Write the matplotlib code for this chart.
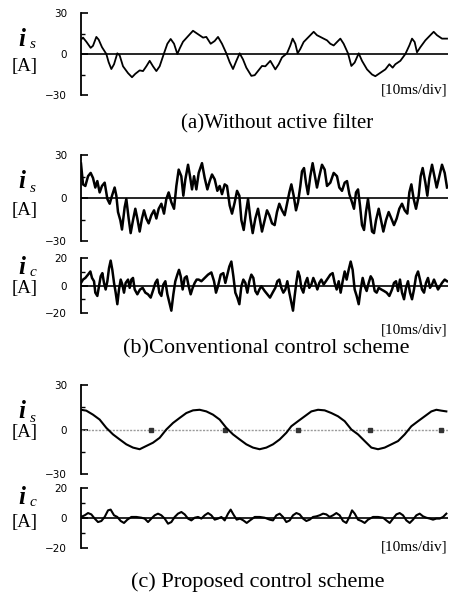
import matplotlib
matplotlib.use("Agg")
import matplotlib.pyplot as plt
import numpy as np

# ---------------- data (time in ms, current in A) ----------------
# (a) Without active filter: source current
a_is_t = [0.0, 0.33, 0.87, 1.58, 1.96, 2.51, 2.89, 3.43, 4.14, 4.52, 4.96, 5.40, 5.94, 6.32, 6.87,
          7.69, 8.34, 8.88, 9.59, 10.14, 10.68, 11.23, 11.77, 12.32, 12.86, 13.57, 14.12, 14.66,
          15.21, 15.75, 16.13, 16.68, 17.39, 18.31, 19.13, 19.95, 20.49, 21.20, 21.85, 22.40,
          23.05, 23.76, 24.31, 24.85, 25.40, 25.94, 26.49, 27.03, 27.85, 28.40,
          29.59, 30.14, 30.95, 31.77, 32.32, 32.86, 33.68, 34.22, 34.60, 35.04, 35.42, 35.86,
          36.40, 37.22, 38.04, 38.58, 39.13, 39.67, 40.22, 40.76, 41.31, 41.85, 42.40, 42.94,
          43.65, 44.20, 44.74, 45.40, 45.94, 46.76, 47.58, 48.12, 48.94, 49.76, 50.41, 50.95,
          51.39, 52.21, 53.03, 53.68, 54.12, 54.55, 54.93, 55.48, 56.30, 57.11, 57.66, 58.20,
          59.02, 59.84]
a_is_v = [10.5, 12, 9, 4.5, 6, 12.5, 10.5, 5, 0, -6, -11, -7.5, 0.5, -1, -9,
          -14, -17, -14.5, -12, -12.5, -9, -5, -9, -12.5, -9, 0.5, 7.5, 11,
          7.5, 0, 4, 9, 12.5, 17, 14.5, 12, 12.5, 7.5, 9.5, 12.5,
          7.5, 0.5, -6, -11, -5, 0.5, -4, -10, -16, -15.5,
          -8.75, -9, -5, -11.25, -7.5, -2.5, 0.5, 6.25, 11.25, 7.5, 0.5, 3.75,
          8.75, 12.5, 16.25, 13.75, 12.5, 11.25, 10, 7.5, 6.25, 8.75, 11.25, 7.5,
          0.5, -8.75, -6.25, 0.5, -5, -11.25, -15, -16.25, -13.75, -11.25, -7.5, -10,
          -7.5, -5, 0, 6.25, 11.25, 8.75, 1.25, 5, 10, 13.75, 16.25, 13.75,
          11.25, 11.25]

# (b) Conventional control scheme: source current
b_is_t = [0.0, 0.33, 0.71, 1.15, 1.58, 1.96, 2.34, 2.67, 3.05, 3.43, 3.87, 4.31, 4.69, 5.07, 5.50,
          5.78, 6.05, 6.43, 6.70, 7.14, 7.41, 7.79, 8.12, 8.50, 8.88, 9.21, 9.59, 9.97, 10.30,
          10.68, 11.06, 11.50, 11.94, 12.32, 12.70, 13.14, 13.57, 13.95, 14.33, 14.77, 15.21,
          15.59, 15.97, 16.40, 16.73, 17.06, 17.50, 17.82, 18.15, 18.48, 18.86, 19.24, 19.78,
          20.22, 20.66, 21.04, 21.42, 21.86, 22.29, 22.67, 23.05, 23.49, 23.87, 24.31, 24.69,
          25.13, 25.51, 25.89, 26.22, 26.60, 26.98, 27.31, 27.69, 28.07, 28.50, 28.94, 29.32,
          29.59, 30.03, 30.41, 30.79, 31.23, 31.66, 32.04, 32.42, 32.86, 33.30, 33.68, 34.06,
          34.39, 34.77, 35.15, 35.48, 35.86, 36.13, 36.46, 36.78, 37.11, 37.49, 37.87, 38.20,
          38.58, 38.96, 39.40, 39.84, 40.22, 40.76, 41.31, 41.85, 42.23, 42.67, 43.11, 43.49,
          43.87, 44.31, 44.63, 44.96, 45.29, 45.61, 45.94, 46.27, 46.59, 46.92, 47.25, 47.58,
          47.90, 48.23, 48.67, 49.05, 49.43, 49.86, 50.30, 50.74, 51.17, 51.61, 52.04, 52.48,
          52.92, 53.35, 53.68, 54.01, 54.39, 54.77, 55.21, 55.53, 55.86, 56.30, 56.62, 56.95,
          57.39, 57.77, 58.15, 58.58, 59.02, 59.46, 59.84]
b_is_v = [24, 9.5, 8.4, 15.2, 17.5, 14, 7.3, 11.8, 3.9, 8.4, 10.7, -0.7, -4, 1.6, 7.3,
          1.6, -9.8, -15.5, -22, -6.4, -0.7, -14.3, -24.5, -15.5, -7.5, -14.3, -23.4, -14.3, -8.6,
          -14.3, -17.7, -12, -8.6, -14.3, -7.5, -4, -10.9, -0.7, 3.9, -3, -7.5,
          8.4, 19.8, 15.2, 1.6, 13, 23.2, 15.2, 6, 15.2, 6, 17.5, 24.3,
          14, 6, 11.8, 16.4, 13, 5, 8.4, 2.7, 9.5, 8.4, -5.2, -10.9,
          -3, 5, 1.6, -15.5, -22.3, -9.8, -0.7, -14.3, -24.5, -14.3, -7.5, -16.6,
          -23.4, -15.5, -8.6, -12, -17.7, -18.9, -9.8, -4, -8.6, -12, -4, 3.9,
          9.5, 1.6, -8.6, -3, 8.4, 18.6, 20.9, 10.7, 2.7, 15.2, 24.3, 16.4,
          7.3, 15.2, 23.2, 19.8, 8.4, 10.7, 17.5, 15.2, 7.3, 5, 10.7, 11.8,
          2.7, -3, -7.5, 3.9, 6, -5.2, -18.9, -22.3, -9.8, -0.7, -12, -23.4,
          -24.5, -15.5, -7.5, -15.5, -23.4, -15.5, -9.8, -14.3, -18.9, -14.3, -7.5, -4,
          -8.6, -10.9, 3.9, 9.5, -0.7, -7.5, 1.6, 15.2, 20.9, 10.7, 1.6, 13.9,
          23.2, 15.2, 7.3, 15.2, 23.2, 17.5, 7.3]

# (b) Conventional control scheme: compensating current
b_ic_t = [0.0, 0.33, 0.71, 1.15, 1.53, 1.80, 2.13, 2.34, 2.67, 2.94, 3.22, 3.49, 3.76, 4.03, 4.31,
          4.58, 4.85, 5.12, 5.40, 5.67, 5.94, 6.21, 6.49, 6.76, 7.03, 7.30, 7.69, 7.96, 8.23,
          8.50, 8.78, 9.21, 9.65, 10.08, 10.52, 10.95, 11.39, 11.83, 12.15, 12.48, 12.81, 13.14,
          13.46, 13.79, 14.12, 14.44, 14.77, 15.10, 15.42, 15.75, 16.02, 16.30, 16.62, 16.95,
          17.28, 17.60, 17.93, 18.26, 18.59, 18.91, 19.24, 19.68, 20.22, 20.77, 21.31, 21.75,
          22.07, 22.40, 22.84, 23.27, 23.60, 23.93, 24.25, 24.58, 24.91, 25.23, 25.56, 25.89,
          26.22, 26.54, 26.87, 27.20, 27.52, 27.85, 28.18, 28.50, 28.83, 29.16, 29.49,
          30.03, 30.46, 30.90, 31.33, 31.77, 32.10, 32.42, 32.75, 33.08, 33.41, 33.73, 34.06,
          34.39, 34.66, 34.93, 35.20, 35.48, 35.75, 36.02, 36.35, 36.68, 37.00, 37.33, 37.66,
          37.98, 38.31, 38.64, 38.96, 39.29, 39.67, 40.22, 40.76, 41.14, 41.47, 41.80, 42.13,
          42.45, 42.78, 43.11, 43.43, 43.76, 44.09, 44.41, 44.74, 45.07, 45.40, 45.72, 46.05,
          46.38, 46.70, 47.03, 47.36, 47.68, 48.01, 48.34, 48.67, 49.10, 49.54, 49.97, 50.41,
          50.85, 51.17, 51.50, 51.83, 52.15, 52.48, 52.81, 53.13, 53.46, 53.79, 54.12, 54.44,
          54.77, 55.10, 55.42, 55.75, 56.08, 56.40, 56.73, 57.06, 57.39, 57.71, 58.04, 58.37,
          58.69, 59.02, 59.46, 59.84]
b_ic_v = [1.9, 4.3, 5.5, 7.9, 10.2, 5.5, 3.1, -5.2, -7.6, -0.5, 6.7, 9, 1.9, -2.9, 3.1,
          12.6, 18.1, 11.4, 1.9, -5.2, -13.6, -2.9, 4.3, 0.7, -5.2, 1.9, 4.3, -1.7, 4.3,
          5.5, -2.9, -6.4, -2.9, -1.7, -5.2, -6.4, -8.8, -2.9, 1.9, 4.3, -5.2, -7.6,
          0.7, 3.1, -6.4, -12.4, -18.3, -6.4, 3.1, 7.9, 11.4, 6.7, -2.9, 5.5,
          6.7, -0.5, -6.4, -1.7, 1.9, 4.3, 4.3, 3.1, 5.5, 7.9, 9.5, 3.1,
          -5.2, -0.5, 7.9, 9, 1.9, 7.9, 13.8, 17.4, 6.7, -5.2, -8.8, -13.6,
          -0.5, 4.3, 1.9, -5.2, 3.1, 7.9, 5.5, -4, -6.4, -2.9, -0.5,
          -4, -6.4, -8.8, -5.2, -1.7, 3.1, 4.3, -1.7, -5.2, -2.9, 3.1, -5.2,
          -12.4, -18.3, -7.6, 1.9, 10.2, 6.7, -1.7, -5.2, 1.9, 5.5, -1.7, 0.7,
          5.5, 1.9, -2.9, 1.9, 4.3, 0.7, 4.3, 7.9, 9, 1.9, -2.9, 3.1,
          -5.2, 3.1, 10.2, 4.3, 11.4, 17.4, 11.4, -2.9, -7.6, -13.6, -2.9, 5.5,
          -0.5, -4, 1.9, 6.7, 4.3, -4, -5.2, -1.7, -2.9, -4, -5.2, -7.6,
          -2.9, 1.9, 3.1, -4, 4.3, -5.2, -10, -1.7, 3.1, -5.2, -10, -2.9,
          6.7, 10.2, 4.3, -2.9, -5.2, 1.9, 5.5, -1.7, 0.7, 4.3, 0.7, -2.9,
          -0.5, 1.9, 4.3, 3.1]

# (c) Proposed control scheme: source current
c_is_t = [0.0, 0.87, 1.96, 3.05, 4.14, 5.23, 6.32, 7.41, 8.50, 9.59, 10.68, 11.77, 12.86, 13.95,
          15.04, 16.13, 17.22, 18.31, 19.40, 20.49, 21.58, 22.67, 23.76, 24.85, 25.94, 27.03,
          28.12, 29.21, 30.30, 31.39, 32.48, 33.57, 34.39, 35.48, 36.57, 37.66, 38.75, 39.84,
          40.93, 42.02, 43.11, 44.20, 45.29, 46.38, 47.47, 48.56, 49.65, 50.74, 51.83, 52.92,
          54.01, 55.10, 56.19, 57.28, 58.10, 58.92, 59.73]
c_is_v = [13.3, 12.7, 10, 6.7, 1.1, -3.3, -6.7, -10, -12.2, -13.3, -11.1, -8.9, -5.6, 0,
          4.4, 7.8, 11.1, 12.9, 13.3, 12.2, 10, 6.7, 1.1, -3.3, -6.7, -10,
          -12.2, -13.3, -12.2, -10, -6.7, -2.2, 2.2, 5.6, 8.9, 12.2, 13.3, 12.9,
          11.1, 8.9, 5.6, 0, -3.3, -7.8, -12.2, -13.3, -12.2, -10, -7.8, -3.3,
          2.2, 5.6, 8.9, 12.2, 13.3, 12.7, 12.2]
c_zero_marks_t = [11.5, 23.5, 35.5, 47.2, 58.9]

# (c) Proposed control scheme: compensating current
c_ic_t = [0.0, 0.60, 1.15, 1.69, 2.24, 2.78, 3.33, 3.87, 4.42, 4.85, 5.40, 5.94, 6.49, 7.03, 7.58,
          8.23, 9.05, 9.87, 10.41, 10.96, 11.50, 12.05, 12.59, 13.14, 13.68, 14.23, 14.77, 15.32,
          15.86, 16.41, 16.95, 17.50, 18.04, 18.59, 19.13, 19.68, 20.22, 20.77, 21.31, 21.86,
          22.40, 22.95, 23.49, 24.04, 24.47, 24.91, 25.45, 26.00, 26.54, 27.09, 27.63, 28.40,
          29.21, 30.03, 30.85, 31.39, 31.94, 32.48, 33.03, 33.57, 34.12, 34.66, 35.21, 35.75,
          36.30, 36.84, 37.39, 37.93, 38.48, 39.02, 39.57, 40.11, 40.66, 41.20, 41.75, 42.29,
          42.84, 43.38, 43.93, 44.31, 44.75, 45.29, 45.84, 46.38, 46.93, 47.74, 48.56, 49.38,
          49.92, 50.47, 51.01, 51.56, 52.10, 52.65, 53.19, 53.74, 54.28, 54.83, 55.37, 55.92,
          56.46, 57.01, 57.55, 58.10, 58.64, 59.19, 59.73]
c_ic_v = [0.7, 1.8, 3.3, 2.4, -0.4, -2.7, -2, 0.7, 5.1, 5.6, 1.8, 0.7, -2, -3.3, -1.1,
          0.7, 0.7, 0.2, -0.4, -2.7, -0.4, 1.8, 2.9, 1.8, -0.4, -3.8, -2.7, 0.7,
          2.9, 4, 2.4, -0.4, -1.6, 0.2, 0.7, -0.4, 1.8, 3.3, 1.8, -1.1,
          -0.4, 0.7, -1.6, 2.9, 5.6, 2.4, -1.1, -0.4, -1.6, -3.3, -1.6, 0.7,
          0.7, 0.2, -1.1, -1.6, 1.8, 2.9, 0.7, -2.7, -1.6, 1.8, 3.3, 2.4,
          -0.4, -2, -1.1, 0.7, 1.1, 1.8, 2.9, 2.4, 0.7, 1.8, 3.3, 1.8,
          -2, -3.3, 1.1, 5.1, 2.9, -1.1, -2, -3.3, -1.1, 0.7, 0.7, 0.2,
          -1.6, -3.3, -0.4, 2.4, 3.3, 1.8, -1.6, -3.3, -1.1, 1.8, 2.9, 1.1,
          0.2, -0.4, -1.1, -0.4, -0.4, 0.7, 2.9]

is_ticks = [-30, 0, 30]
ic_ticks = [-20, 0, 20]
captions = ["(a)Without active filter", "(b)Conventional control scheme",
            "(c) Proposed control scheme"]
time_label = "[10ms/div]"
t_span = (0, 60)

# ---------------- figure ----------------
W, H = 453, 599
fig = plt.figure(figsize=(W / 100, H / 100), dpi=100)
SERIF = ["Liberation Serif", "DejaVu Serif"]


def px_axes(left, top, right, bottom):
    return fig.add_axes([left / W, 1 - bottom / H, (right - left) / W, (bottom - top) / H])


def ftext(x, y, s, **kw):
    fig.text(x / W, 1 - y / H, s, **kw)


def style(ax, lim, ticks):
    ax.set_xlim(*t_span)
    ax.set_ylim(-lim, lim)
    for sp in ("top", "right", "bottom"):
        ax.spines[sp].set_visible(False)
    ax.spines["left"].set_linewidth(1.3)
    ax.set_xticks([])
    ax.set_yticks(ticks)
    ax.set_yticks([-lim / 2, lim / 2], minor=True)
    ax.set_yticklabels([str(t).replace("-", "\u2212") for t in ticks])
    ax.tick_params(axis="y", which="major", direction="in", length=5, width=1.2,
                   labelsize=7.5, pad=10)
    ax.tick_params(axis="y", which="minor", direction="in", length=3, width=1.0)
    ax.patch.set_alpha(0)


def ylabel(yc_i, sub, yc_a):
    ftext(22, yc_i, "i", family=SERIF, fontsize=18, fontweight="bold", style="italic",
          ha="center", va="center")
    ftext(33, yc_i + 6, sub, family=SERIF, fontsize=11, style="italic",
          ha="center", va="center")
    ftext(25, yc_a, "[A]", family=SERIF, fontsize=13.5, ha="center", va="center")


# (a)
ax = px_axes(81, 13, 448, 95)
ax.axhline(0, color="black", lw=1.2)
ax.plot(a_is_t, a_is_v, color="black", lw=1.3)
style(ax, 30, is_ticks)
ylabel(39, "s", 67)
ftext(448, 90, time_label, family=SERIF, fontsize=11, ha="right", va="center")
ftext(277, 124, captions[0], family=SERIF, fontsize=15, ha="center", va="center")

# (b) is
ax = px_axes(81, 155, 448, 241)
ax.axhline(0, color="black", lw=1.2)
ax.plot(b_is_t, b_is_v, color="black", lw=1.8)
style(ax, 30, is_ticks)
ylabel(182, "s", 211)

# (b) ic
ax = px_axes(81, 258, 448, 313)
ax.axhline(0, color="black", lw=1.2)
ax.plot(b_ic_t, b_ic_v, color="black", lw=1.8)
style(ax, 20, ic_ticks)
ylabel(267, "c", 288)
ftext(448, 330, time_label, family=SERIF, fontsize=11, ha="right", va="center")
ftext(266, 349, captions[1], family=SERIF, fontsize=16, ha="center", va="center")

# (c) is
ax = px_axes(81, 385, 448, 474)
ax.plot(t_span, [0, 0], color="#9a9a9a", lw=1.0, ls=(0, (1.5, 1)))
ax.plot(c_zero_marks_t, [0] * len(c_zero_marks_t), ls="none", marker="s",
        ms=2.5, color="#333333")
ax.plot(c_is_t, c_is_v, color="black", lw=1.5)
style(ax, 30, is_ticks)
ylabel(412, "s", 432)

# (c) ic
ax = px_axes(81, 488, 448, 548)
ax.axhline(0, color="black", lw=1.2)
ax.plot(c_ic_t, c_ic_v, color="black", lw=1.5)
style(ax, 20, ic_ticks)
ylabel(497, "c", 522)
ftext(448, 547, time_label, family=SERIF, fontsize=11, ha="right", va="center")
ftext(258, 582, captions[2], family=SERIF, fontsize=16, ha="center", va="center")

fig.savefig("out.png", dpi=100)
